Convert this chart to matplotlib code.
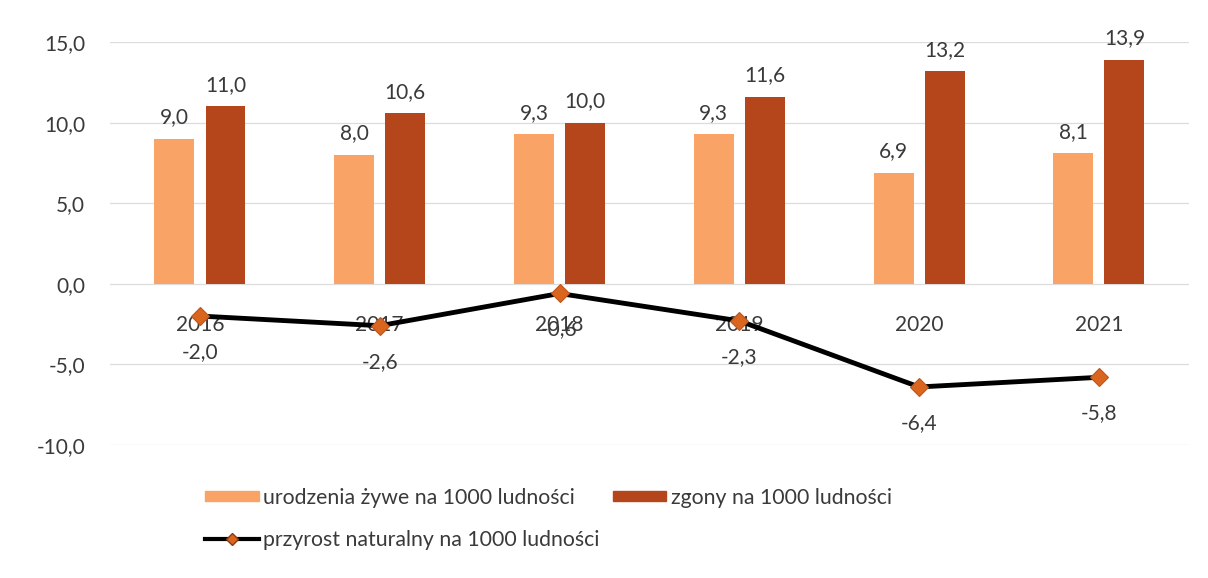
import matplotlib
matplotlib.use("Agg")
import matplotlib.pyplot as plt
from matplotlib.patches import Patch
from matplotlib.lines import Line2D
import numpy as np

years = ["2016", "2017", "2018", "2019", "2020", "2021"]
births = [9.0, 8.0, 9.3, 9.3, 6.9, 8.1]
deaths = [11.0, 10.6, 10.0, 11.6, 13.2, 13.9]
increase = [-2.0, -2.6, -0.6, -2.3, -6.4, -5.8]
yticks = [-10, -5, 0, 5, 10, 15]

label_births = "urodzenia żywe na 1000 ludności"
label_deaths = "zgony na 1000 ludności"
label_incr = "przyrost naturalny na 1000 ludności"

c_births = "#F9A366"
c_deaths = "#B5461B"
c_marker = "#D9651F"
c_text = "#3A3A3A"

plt.rcParams["font.family"] = ["Lato", "DejaVu Sans"]

def fmt(v):
    return f"{v:.1f}".replace(".", ",")

fig = plt.figure(figsize=(12.08, 5.78), dpi=100)
ax = fig.add_axes([0.0911, 0.2301, 0.893, 0.6972])

x = np.arange(len(years))
w = 0.222
off = 0.142
ax.bar(x - off, births, width=w, color=c_births, zorder=2)
ax.bar(x + off, deaths, width=w, color=c_deaths, zorder=2)
ax.plot(x, increase, color="black", lw=3.5, zorder=4,
        marker="D", markersize=9.5, markerfacecolor=c_marker,
        markeredgecolor="#C0551A", markeredgewidth=0.8)

for xi, v in zip(x - off, births):
    ax.annotate(fmt(v), (xi, v), xytext=(0, 11), textcoords="offset points",
                ha="center", va="baseline", fontsize=15, color=c_text)
for xi, v in zip(x + off, deaths):
    ax.annotate(fmt(v), (xi, v), xytext=(0, 11), textcoords="offset points",
                ha="center", va="baseline", fontsize=15, color=c_text)
for xi, v in zip(x, increase):
    ax.annotate(fmt(v), (xi, v), xytext=(0, -26), textcoords="offset points",
                ha="center", va="center", fontsize=15, color=c_text, zorder=5)
for xi, lab in zip(x, years):
    ax.annotate(lab, (xi, 0), xytext=(0, -29.5), textcoords="offset points",
                ha="center", va="center", fontsize=15, color=c_text, zorder=3)

ax.set_xlim(-0.5, len(years) - 0.5)
ax.set_ylim(-10, 15)
ax.set_yticks(yticks)
ax.set_yticklabels([fmt(v) for v in yticks], fontsize=15, color=c_text)
ax.set_xticks([])
ax.tick_params(axis="y", length=0, pad=18)
for s in ax.spines.values():
    s.set_visible(False)
ax.grid(axis="y", color="#DCDCDC", lw=0.9, zorder=0)
ax.set_axisbelow(True)

handles = [Patch(color=c_births, label=label_births),
           Line2D([], [], color="black", lw=3, marker="D", markersize=6,
                  markerfacecolor=c_marker, markeredgecolor="#8A3A10",
                  label=label_incr),
           Patch(color=c_deaths, label=label_deaths)]
fig.legend(handles=handles, loc="upper left", bbox_to_anchor=(0.163, 0.171),
           ncol=2, frameon=False, fontsize=15.3, handlelength=2.5,
           handleheight=0.4, handletextpad=0.2, labelspacing=1.05,
           columnspacing=0.66, labelcolor=c_text, borderaxespad=0)

fig.savefig("out.png", dpi=100)
